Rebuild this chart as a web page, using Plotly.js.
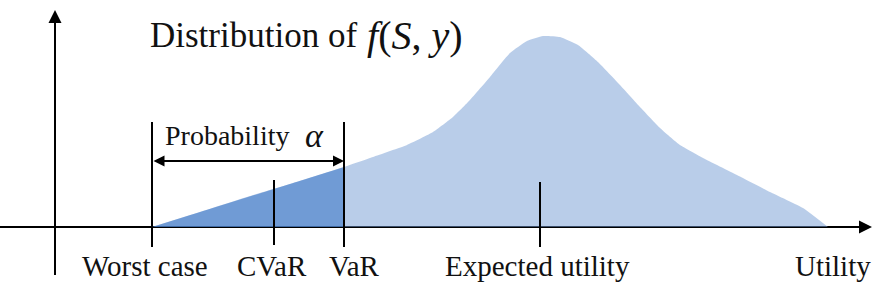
<!DOCTYPE html>
<html>
<head>
<meta charset="utf-8">
<script src="https://cdn.plot.ly/plotly-3.0.1.min.js"></script>
<style>html,body{margin:0;padding:0;background:#fff;}#chart{width:884px;height:292px;}</style>
</head>
<body>
<div id="chart"></div>
<script>
// Utility (x) and density (y) of the distribution
const utility = [0.97, 1.45, 1.95, 2.45, 2.89, 3.18, 3.52, 3.78, 3.98, 4.15, 4.35, 4.55, 4.72, 4.88, 5.05, 5.23, 5.43, 5.65, 5.85, 6.05, 6.25, 6.48, 6.82, 7.15, 7.48, 7.73];
const density = [0.00, 0.15, 0.31, 0.46, 0.60, 0.70, 0.82, 0.95, 1.10, 1.27, 1.50, 1.74, 1.86, 1.91, 1.90, 1.82, 1.65, 1.42, 1.20, 0.99, 0.82, 0.69, 0.52, 0.35, 0.19, 0.00];

// Marked positions on the utility axis
const markerNames  = ["Worst case", "CVaR", "VaR", "Expected utility"];
const markerValues = [0.97, 2.19, 2.89, 4.85];
const axisLabel = "Utility";

const worst = markerValues[0], cvar = markerValues[1], vaR = markerValues[2], expected = markerValues[3];

// tail region (up to VaR)
const tailX = [], tailY = [];
utility.forEach((u, i) => { if (u <= vaR + 1e-9) { tailX.push(u); tailY.push(density[i]); } });

const FONT = "Liberation Serif";

const traces = [
  {x: utility, y: density, type: "scatter", mode: "lines",
   line: {shape: "spline", smoothing: 0.4, width: 0, color: "rgba(0,0,0,0)"},
   fill: "tozeroy", fillcolor: "rgba(115,155,211,0.5)", hoverinfo: "skip"},
  {x: tailX, y: tailY, type: "scatter", mode: "lines",
   line: {shape: "linear", width: 0, color: "rgba(0,0,0,0)"},
   fill: "tozeroy", fillcolor: "rgba(63,122,200,0.6)", hoverinfo: "skip"}
];

const vline = (x, y0, y1) => ({type: "line", xref: "x", yref: "y", x0: x, x1: x, y0: y0, y1: y1,
  line: {color: "#000", width: 2}, layer: "above"});

const shapes = [
  // x axis line (under the fill)
  {type: "line", xref: "x", yref: "y", x0: -0.6, x1: 8.0, y0: 0, y1: 0, line: {color: "#000", width: 2}, layer: "below"},
  // y axis
  {type: "line", xref: "x", yref: "y", x0: 0, x1: 0, y0: -0.48, y1: 2.05, line: {color: "#000", width: 2}, layer: "above"},
  vline(worst, -0.20, 1.05),
  vline(vaR, -0.20, 1.05),
  vline(cvar, -0.18, 0.47),
  vline(expected, -0.20, 0.45)
];

const label = (text, x, y, size, anchor) => ({text: text, x: x, y: y, xref: "x", yref: "y",
  showarrow: false, xanchor: anchor || "center", yanchor: "middle",
  font: {family: FONT, size: size, color: "#111"}});

const annotations = [
  // arrowheads of the axes
  {x: 8.17, y: 0, ax: 7.9, ay: 0, xref: "x", yref: "y", axref: "x", ayref: "y", text: "",
   showarrow: true, arrowhead: 2, arrowsize: 1.3, arrowwidth: 2, arrowcolor: "#000", standoff: 0},
  {x: 0, y: 2.17, ax: 0, ay: 1.9, xref: "x", yref: "y", axref: "x", ayref: "y", text: "",
   showarrow: true, arrowhead: 2, arrowsize: 1.3, arrowwidth: 2, arrowcolor: "#000", standoff: 0},
  // probability alpha double arrow
  {x: vaR, y: 0.66, ax: worst, ay: 0.66, xref: "x", yref: "y", axref: "x", ayref: "y", text: "",
   showarrow: true, arrowhead: 2, startarrowhead: 2, arrowside: "end+start", arrowsize: 1.1, startarrowsize: 1.1,
   arrowwidth: 2, arrowcolor: "#000", standoff: 0, startstandoff: 0},
  label("Distribution of", 0.93, 1.92, 35, "left"),
  label("<i>f</i>(<i>S</i>, <i>y</i>)", 3.10, 1.92, 40, "left"),
  label("Probability", 1.08, 0.92, 28, "left"),
  label("<i>α</i>", 2.48, 0.92, 34, "left"),
  label(markerNames[0], 0.90, -0.39, 29),
  label(markerNames[1], 2.17, -0.39, 29),
  label(markerNames[2], 2.99, -0.39, 29),
  label(markerNames[3], 4.82, -0.39, 29),
  label(axisLabel, 7.78, -0.39, 29)
];

const layout = {
  width: 884, height: 292,
  margin: {l: 0, r: 0, t: 0, b: 0},
  paper_bgcolor: "#fff", plot_bgcolor: "#fff",
  showlegend: false,
  font: {family: FONT},
  xaxis: {range: [-0.55, 8.29], visible: false, fixedrange: true},
  yaxis: {range: [-0.65, 2.27], visible: false, fixedrange: true},
  shapes: shapes,
  annotations: annotations
};

Plotly.newPlot("chart", traces, layout, {staticPlot: true, displayModeBar: false});
</script>
</body>
</html>
